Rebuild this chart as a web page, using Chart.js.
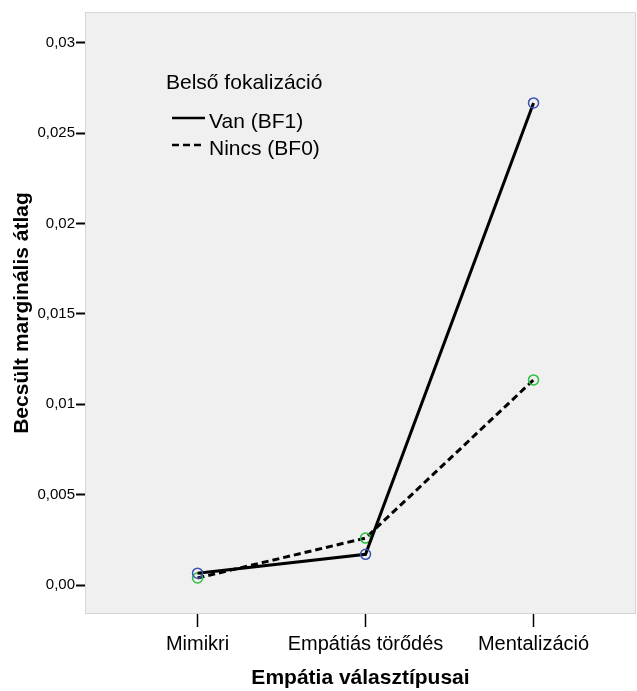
<!DOCTYPE html>
<html>
<head>
<meta charset="utf-8">
<script src="https://cdn.jsdelivr.net/npm/chart.js@4/dist/chart.umd.min.js"></script>
<style>
  html, body { margin: 0; padding: 0; background: #fff; overflow: hidden; }
  canvas { display: block; }
</style>
</head>
<body>
<canvas id="chart" width="637" height="691"></canvas>
<script>
const CATEGORIES = ['Mimikri', 'Empátiás törődés', 'Mentalizáció'];
const VAN_BF1 = [0.00066, 0.0017, 0.02667];
const NINCS_BF0 = [0.00039, 0.0026, 0.01135];
const Y_TICKS = [0, 0.005, 0.01, 0.015, 0.02, 0.025, 0.03];
const LEGEND_TITLE = 'Belső fokalizáció';

const FONT = 'Arial, "Liberation Sans", sans-serif';

function toPoints(arr) {
  return arr.map((v, i) => ({x: i, y: v}));
}

function fmt(v) {
  if (v === 0) return '0,00';
  return String(+v.toFixed(3)).replace('.', ',');
}

// grey plot background + thin border
const plotBg = {
  id: 'plotBg',
  beforeDraw(chart) {
    const {ctx, chartArea: a} = chart;
    ctx.save();
    ctx.fillStyle = '#f0f0f0';
    ctx.fillRect(a.left, a.top, a.right - a.left, a.bottom - a.top);
    ctx.strokeStyle = '#d6d6d6';
    ctx.lineWidth = 1;
    ctx.strokeRect(a.left + 0.5, a.top + 0.5, a.right - a.left - 1, a.bottom - a.top - 1);
    ctx.restore();
  }
};

// legend inside the plot, like the SPSS one
const innerLegend = {
  id: 'innerLegend',
  afterDatasetsDraw(chart) {
    const ctx = chart.ctx;
    ctx.save();
    ctx.fillStyle = '#000';
    ctx.textBaseline = 'middle';
    ctx.font = '21px ' + FONT;
    ctx.fillText(LEGEND_TITLE, 166, 83);
    chart.data.datasets.forEach((ds, i) => {
      const y = 122 + i * 27;
      ctx.strokeStyle = '#000';
      ctx.lineWidth = 2.5;
      ctx.setLineDash(ds.borderDash || []);
      ctx.beginPath();
      ctx.moveTo(172, y - 4);
      ctx.lineTo(205, y - 4);
      ctx.stroke();
      ctx.setLineDash([]);
      ctx.fillText(ds.label, 209, y);
    });
    ctx.restore();
  }
};

new Chart(document.getElementById('chart'), {
  type: 'line',
  data: {
    datasets: [{
      label: 'Van (BF1)',
      data: toPoints(VAN_BF1),
      borderColor: '#000',
      borderWidth: 3,
      pointRadius: 5,
      pointBorderWidth: 1.5,
      pointBorderColor: '#3b52b5',
      pointBackgroundColor: 'rgba(0,0,0,0)',
      tension: 0,
    }, {
      label: 'Nincs (BF0)',
      data: toPoints(NINCS_BF0),
      borderColor: '#000',
      borderWidth: 3,
      borderDash: [7, 4],
      pointRadius: 5,
      pointBorderWidth: 1.5,
      pointBorderColor: '#2bbf3e',
      pointBackgroundColor: 'rgba(0,0,0,0)',
      tension: 0,
    }]
  },
  options: {
    responsive: false,
    animation: false,
    devicePixelRatio: 1,
    layout: {autoPadding: false, padding: {top: 12, right: 1, left: 0, bottom: 0}},
    plugins: {
      legend: {display: false},
      tooltip: {enabled: false},
    },
    scales: {
      x: {
        type: 'linear',
        min: -0.67,
        max: 2.61,
        afterBuildTicks: (scale) => {
          scale.ticks = CATEGORIES.map((c, i) => ({value: i}));
        },
        afterFit: (scale) => {
          scale.height = 77;
          scale.paddingLeft = 0;
          scale.paddingRight = 0;
        },
        grid: {drawOnChartArea: false, drawTicks: true, tickLength: 13, tickColor: '#000', tickWidth: 1.5},
        border: {display: false},
        ticks: {
          color: '#000',
          font: {family: FONT, size: 20},
          padding: 5,
          callback: (v) => CATEGORIES[v],
        },
        title: {
          display: true,
          text: 'Empátia választípusai',
          color: '#000',
          font: {family: FONT, size: 21, weight: 'bold'},
          padding: {top: 8, bottom: 0},
        },
      },
      y: {
        min: -0.0016,
        max: 0.0317,
        afterBuildTicks: (scale) => {
          scale.ticks = Y_TICKS.map((v) => ({value: v}));
        },
        afterFit: (scale) => {
          scale.width = 85;
          scale.paddingTop = 0;
          scale.paddingBottom = 0;
        },
        grid: {drawOnChartArea: false, drawTicks: true, tickLength: 9, tickColor: '#000', tickWidth: 2},
        border: {display: false},
        ticks: {
          color: '#000',
          font: {family: FONT, size: 15},
          padding: 1,
          callback: fmt,
        },
        title: {
          display: true,
          text: 'Becsült marginális átlag',
          color: '#000',
          font: {family: FONT, size: 21, weight: 'bold'},
          padding: {top: 10, bottom: 0},
        },
      },
    },
  },
  plugins: [plotBg, innerLegend],
});
</script>
</body>
</html>
